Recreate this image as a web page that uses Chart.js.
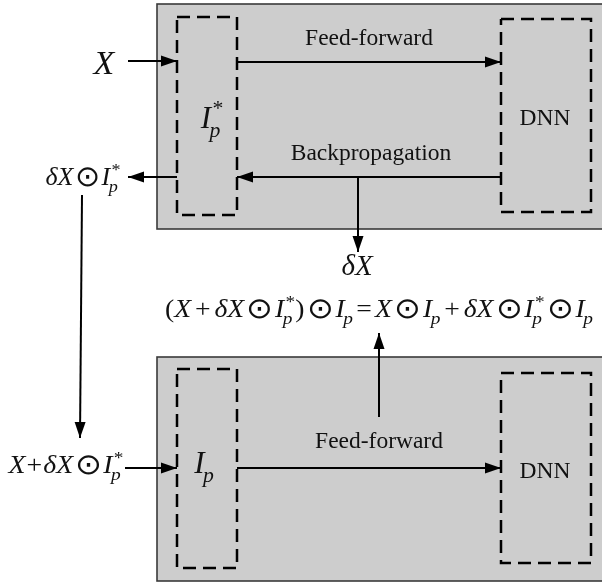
<!DOCTYPE html>
<html>
<head>
<meta charset="utf-8">
<script src="https://cdn.jsdelivr.net/npm/chart.js@4.4.0/dist/chart.umd.min.js"></script>
<style>
  html, body { margin: 0; padding: 0; background: #fff; }
  #wrap { width: 602px; height: 585px; position: relative; }
</style>
</head>
<body>
<div id="wrap"><canvas id="diagram"></canvas></div>
<script>
// diagram coordinates (x right, y down), one unit = one pixel of the reference
const panels = [[157, 4, 606, 229], [157, 357, 606, 581]];
const dashedBoxes = [
  [177, 17, 237, 215],
  [501, 19, 591, 212],
  [177, 369, 237, 568],
  [501, 373, 591, 563],
];
const arrowStart = [[128, 61], [237, 62], [501, 177], [358, 177], [177, 177], [82, 195], [125, 468], [237, 468], [379, 417]];
const arrowEnd   = [[177, 61], [501, 62], [237, 177], [358, 252], [128, 177], [80, 438], [177, 468], [501, 468], [379, 333]];

const plainLabels = ["Feed-forward", "Backpropagation", "DNN", "DNN", "Feed-forward"];
const plainAnchors = [[369, 45], [371, 160], [545, 125], [545, 478], [379, 448]];

const mathAnchors = [[104, 74], [212, 128], [83, 185], [66, 473], [204, 473], [357, 275], [379, 317]];
// target widths; 0 = natural width
const mathWidths  = [0, 0, 75, 115, 0, 0, 428];

const FONT = '"Liberation Serif", "Times New Roman", serif';

// label layouts: i = italic, r = roman, b = binary operator, I = I with sub/sup
const mathLabels = [
  { parts: [["i", "X"]], size: 34 },
  { parts: [["I", "p", "*"]], size: 31 },
  { parts: [["i", "δX"], ["b", "⊙", 0.06], ["I", "p", "*"]], size: 25 },
  { parts: [["i", "X"], ["b", "+", 0.04], ["i", "δX"], ["b", "⊙", 0.06], ["I", "p", "*"]], size: 25 },
  { parts: [["I", "p", ""]], size: 31 },
  { parts: [["i", "δX"]], size: 29 },
  { parts: [["r", "("], ["i", "X"], ["b", "+", 0.14], ["i", "δX"], ["b", "⊙", 0.08], ["I", "p", "*"], ["r", ")"], ["b", "⊙", 0.08],
            ["I", "p", ""], ["b", "=", 0.12], ["i", "X"], ["b", "⊙", 0.08], ["I", "p", ""], ["b", "+", 0.14], ["i", "δX"],
            ["b", "⊙", 0.08], ["I", "p", "*"], ["b", "⊙", 0.08], ["I", "p", ""]], size: 25 },
];

function setFont(ctx, italic, size) {
  ctx.font = (italic ? "italic " : "") + size + "px " + FONT;
}

function mathOps(ctx, parts, size) {
  const ops = [];
  let x = 0;
  for (const p of parts) {
    if (p[0] === "i" || p[0] === "r") {
      setFont(ctx, p[0] === "i", size);
      ops.push({ s: p[1], x: x, dy: 0, italic: p[0] === "i", size: size });
      x += ctx.measureText(p[1]).width;
    } else if (p[0] === "b") {
      const gap = p[2] * size;
      const big = p[1] === "⊙" ? size * 1.15 : size;
      x += gap;
      setFont(ctx, false, big);
      ops.push({ s: p[1], x: x, dy: p[1] === "⊙" ? 0.04 * size : 0, italic: false, size: big });
      x += ctx.measureText(p[1]).width + gap;
    } else if (p[0] === "I") {
      setFont(ctx, true, size);
      ops.push({ s: "I", x: x, dy: 0, italic: true, size: size });
      x += ctx.measureText("I").width;
      const small = size * 0.7;
      setFont(ctx, true, small);
      const wSub = ctx.measureText(p[1]).width;
      ops.push({ s: p[1], x: x - 0.05 * size, dy: 0.28 * size, italic: true, size: small });
      let wSup = 0;
      if (p[2]) {
        setFont(ctx, false, small);
        wSup = ctx.measureText(p[2]).width;
        ops.push({ s: p[2], x: x + 0.05 * size, dy: -0.42 * size, italic: false, size: small });
      }
      x += Math.max(wSub - 0.05 * size, wSup + 0.05 * size);
    }
  }
  return { ops: ops, width: x };
}

const diagramPlugin = {
  id: "diagram",
  beforeDatasetsDraw(chart) {
    const { ctx, scales: { x, y } } = chart;
    ctx.save();
    panels.forEach(b => {
      const x0 = x.getPixelForValue(b[0]), y0 = y.getPixelForValue(b[1]);
      const x1 = x.getPixelForValue(b[2]), y1 = y.getPixelForValue(b[3]);
      ctx.fillStyle = "#cdcdcd";
      ctx.fillRect(x0, y0, x1 - x0, y1 - y0);
      ctx.strokeStyle = "#3a3a3a";
      ctx.lineWidth = 1.6;
      ctx.strokeRect(x0, y0, x1 - x0, y1 - y0);
    });
    ctx.restore();
  },
  afterDatasetsDraw(chart) {
    const { ctx, scales: { x, y } } = chart;
    ctx.save();
    // arrow heads at the end point of every arrow dataset
    chart.data.datasets.forEach((ds, i) => {
      if (!ds.arrow) return;
      const pts = chart.getDatasetMeta(i).data;
      const a = pts[0], b = pts[1];
      const ang = Math.atan2(b.y - a.y, b.x - a.x);
      const len = 16, half = 5.5;
      ctx.fillStyle = "#000";
      ctx.beginPath();
      ctx.moveTo(b.x, b.y);
      ctx.lineTo(b.x - len * Math.cos(ang) + half * Math.sin(ang), b.y - len * Math.sin(ang) - half * Math.cos(ang));
      ctx.lineTo(b.x - len * Math.cos(ang) - half * Math.sin(ang), b.y - len * Math.sin(ang) + half * Math.cos(ang));
      ctx.closePath();
      ctx.fill();
    });

    ctx.fillStyle = "#111";
    ctx.textBaseline = "alphabetic";
    ctx.textAlign = "center";
    setFont(ctx, false, 23.5);
    plainLabels.forEach((t, i) => {
      ctx.fillText(t, x.getPixelForValue(plainAnchors[i][0]), y.getPixelForValue(plainAnchors[i][1]));
    });

    ctx.textAlign = "left";
    mathLabels.forEach((lab, i) => {
      const m = mathOps(ctx, lab.parts, lab.size);
      const cx = x.getPixelForValue(mathAnchors[i][0]);
      const by = y.getPixelForValue(mathAnchors[i][1]);
      const w = mathWidths[i] || m.width;
      const k = w / m.width;
      ctx.save();
      ctx.translate(cx - w / 2, by);
      ctx.scale(k, 1);
      m.ops.forEach(o => {
        setFont(ctx, o.italic, o.size);
        ctx.fillText(o.s, o.x, o.dy);
      });
      ctx.restore();
    });
    ctx.restore();
  }
};

const datasets = [];
dashedBoxes.forEach(b => {
  datasets.push({
    data: [{ x: b[0], y: b[1] }, { x: b[2], y: b[1] }, { x: b[2], y: b[3] }, { x: b[0], y: b[3] }, { x: b[0], y: b[1] }],
    borderColor: "#000",
    borderWidth: 2.5,
    borderDash: [13, 7],
    borderJoinStyle: "miter",
  });
});
arrowStart.forEach((s, i) => {
  datasets.push({
    data: [{ x: s[0], y: s[1] }, { x: arrowEnd[i][0], y: arrowEnd[i][1] }],
    borderColor: "#000",
    borderWidth: 2,
    arrow: true,
  });
});

new Chart(document.getElementById("diagram"), {
  type: "scatter",
  data: { datasets: datasets },
  options: {
    responsive: true,
    maintainAspectRatio: false,
    animation: false,
    layout: { padding: 0 },
    elements: {
      line: { tension: 0, fill: false },
      point: { radius: 0, hoverRadius: 0 },
    },
    datasets: { scatter: { showLine: true } },
    plugins: { legend: { display: false }, tooltip: { enabled: false } },
    scales: {
      x: { type: "linear", min: 0, max: 602, display: false },
      y: { type: "linear", min: 0, max: 585, reverse: true, display: false },
    },
  },
  plugins: [diagramPlugin],
});
</script>
</body>
</html>
